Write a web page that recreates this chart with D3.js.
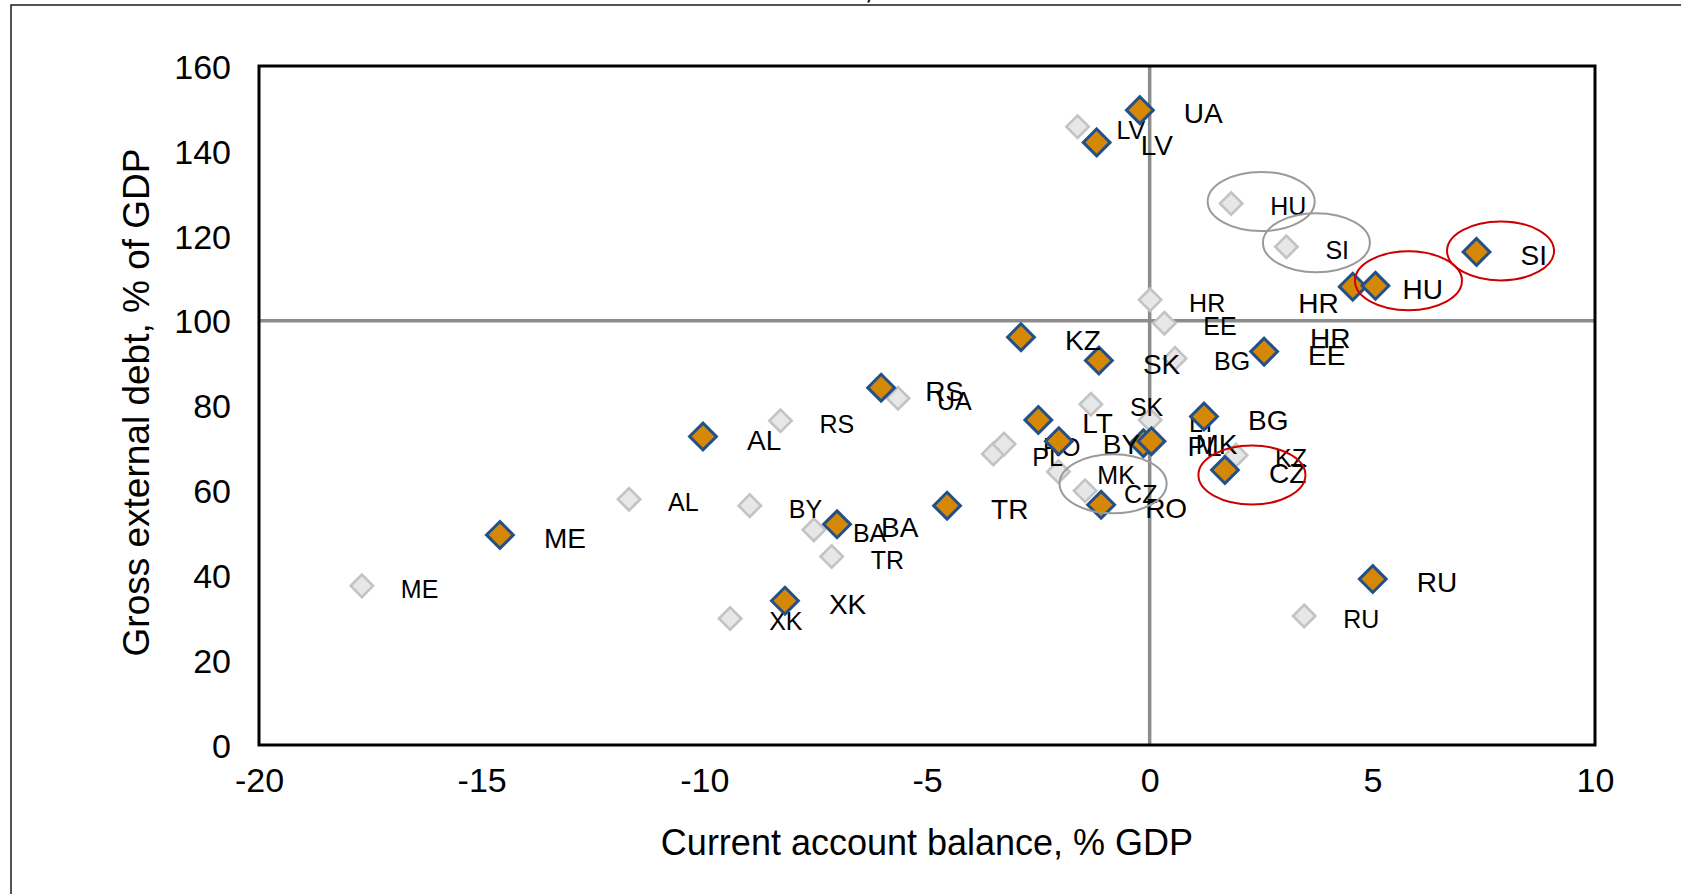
<!DOCTYPE html>
<html>
<head>
<meta charset="utf-8">
<script src="https://cdn.jsdelivr.net/npm/d3@7/dist/d3.min.js"></script>
<style>
    body { margin: 0; background: #fff; }
    svg { display: block; font-family: "Liberation Sans", Arial, sans-serif; }
</style>
</head>
<body>
<div id="chart"></div>
<script>
// earlier year (grey diamonds)
const prevCodes = ["LV", "HU", "SI", "HR", "EE", "BG", "SK", "LT", "UA", "RS", "AL",
                   "ME", "BY", "BA", "TR", "XK", "PL", "RO", "MK", "CZ", "KZ", "RU"];
const prevCA   = [-1.62, 1.83, 3.07, 0.01, 0.33, 0.57, -1.32, 0.01, -5.65, -8.29, -11.69,
                  -17.69, -8.98, -7.54, -7.14, -9.42, -3.51, -3.27, -2.05, -1.45, 1.94, 3.47];
const prevDebt = [145.7, 127.6, 117.4, 104.9, 99.4, 91.1, 80.3, 76.6, 81.7, 76.4, 57.9,
                  37.5, 56.4, 50.7, 44.4, 29.8, 68.6, 70.9, 64.4, 59.9, 68.3, 30.4];

// latest year (orange diamonds)
const currCodes = ["UA", "LV", "KZ", "SK", "RS", "AL", "ME", "XK", "BA", "TR", "LT",
                   "BY", "PL", "MK", "RO", "BG", "CZ", "EE", "HR", "HU", "SI", "RU"];
const currCA   = [-0.22, -1.19, -2.89, -1.14, -6.03, -10.03, -14.59, -8.19, -7.02, -4.55, -2.50,
                  -2.04, -0.14, 0.04, -1.09, 1.22, 1.69, 2.57, 4.56, 5.07, 7.34, 5.01];
const currDebt = [149.6, 142.0, 96.1, 90.6, 84.2, 72.7, 49.5, 34.0, 52.0, 56.4, 76.6,
                  71.6, 71.1, 71.6, 56.6, 77.4, 64.8, 92.7, 108.0, 108.2, 116.2, 39.1];

const xTicks = [-20, -15, -10, -5, 0, 5, 10];
const yTicks = [0, 20, 40, 60, 80, 100, 120, 140, 160];
const refX = 0, refY = 100;

// countries circled in each series
const circledPrev = ["HU", "SI", "CZ"];
const circledCurr = ["HU", "SI", "CZ"];

// hand-moved labels (pixel nudges, like in the original workbook)
const labelNudge = {
    "curr-HU": {dx: 27},
    "curr-HR": {dx: -14, dy: 16, anchor: "end"}
};
const extraLabels = [{series: "curr", code: "EE", text: "HR", dx: 46, dy: -14}];
const ellipseNudge = {
    "prev-HU": [30, -2], "prev-SI": [30, -4], "prev-CZ": [28, -7],
    "curr-HU": [33, -5], "curr-SI": [24, -1], "curr-CZ": [27, 5]
};

const W = 1681, H = 894;
const margin = {top: 66, right: 86, bottom: 149, left: 259};
const width = W - margin.left - margin.right,
      height = H - margin.top - margin.bottom;

const svgRoot = d3.select("#chart").append("svg")
    .attr("width", W)
    .attr("height", H);

// outer chart frame (runs off the picture on the right and bottom)
svgRoot.append("path")
    .attr("d", "M11," + (H + 5) + "V5H" + (W + 5))
    .attr("fill", "none")
    .attr("stroke", "#1a1a1a")
    .attr("stroke-width", 1.5);

// clipped title remnant at the very top
svgRoot.append("text")
    .attr("x", 864).attr("y", -2)
    .attr("font-size", 34)
    .text(",");

const svg = svgRoot.append("g")
    .attr("transform", "translate(" + margin.left + "," + margin.top + ")");

const x = d3.scaleLinear().domain([-20, 10]).range([0, width]);
const y = d3.scaleLinear().domain([0, 160]).range([height, 0]);

// axes without ticks or domain lines, plain hyphen minus signs
const fmt = d => String(d);
const xAxis = svg.append("g")
    .attr("transform", "translate(0," + height + ")")
    .call(d3.axisBottom(x).tickValues(xTicks).tickFormat(fmt).tickSize(0).tickPadding(47));
const yAxis = svg.append("g")
    .call(d3.axisLeft(y).tickValues(yTicks).tickFormat(fmt).tickSize(0).tickPadding(28));
[xAxis, yAxis].forEach(a => {
    a.select(".domain").remove();
    a.selectAll("text")
        .attr("font-family", "'Liberation Sans', Arial, sans-serif")
        .attr("font-size", 34)
        .attr("fill", "#000");
});
yAxis.selectAll("text").attr("dy", "0.36em");
xAxis.selectAll("text").attr("dy", "0");

// reference lines at 0 and 100
svg.append("line")
    .attr("x1", x(refX)).attr("x2", x(refX))
    .attr("y1", 0).attr("y2", height)
    .attr("stroke", "#8c8c8c").attr("stroke-width", 3.5);
svg.append("line")
    .attr("x1", 0).attr("x2", width)
    .attr("y1", y(refY)).attr("y2", y(refY))
    .attr("stroke", "#8c8c8c").attr("stroke-width", 3.5);

// plot border
svg.append("rect")
    .attr("width", width).attr("height", height)
    .attr("fill", "none")
    .attr("stroke", "#000")
    .attr("stroke-width", 3);

// axis titles
svgRoot.append("text")
    .attr("x", margin.left + width / 2)
    .attr("y", 855)
    .attr("text-anchor", "middle")
    .attr("font-size", 36)
    .text("Current account balance, % GDP");
svgRoot.append("text")
    .attr("transform", "translate(149," + (margin.top + height / 2 - 3) + ") rotate(-90)")
    .attr("text-anchor", "middle")
    .attr("font-size", 37)
    .text("Gross external debt, % of GDP");

const prevData = prevCodes.map((c, i) => ({code: c, ca: prevCA[i], debt: prevDebt[i]}));
const currData = currCodes.map((c, i) => ({code: c, ca: currCA[i], debt: currDebt[i]}));

const diamond = h => "M0," + (-h) + "L" + h + ",0L0," + h + "L" + (-h) + ",0Z";

const series = [
    {key: "prev", data: prevData, h: 11.2, fill: "#e6e7e9", stroke: "#c3c3c3", sw: 2.6,
     font: 25, dx: 39, circled: circledPrev, ring: "#9a9a9a"},
    {key: "curr", data: currData, h: 13.4, fill: "#d48806", stroke: "#24508a", sw: 3,
     font: 28, dx: 44, circled: circledCurr, ring: "#cc0000"}
];

series.forEach(s => {
    svg.append("g").selectAll("path")
        .data(s.data)
        .join("path")
        .attr("transform", d => "translate(" + x(d.ca) + "," + y(d.debt) + ")")
        .attr("d", diamond(s.h))
        .attr("fill", s.fill)
        .attr("stroke", s.stroke)
        .attr("stroke-width", s.sw);

    const capHalf = s.font * 0.716 / 2;
    let labels = s.data.map(d => {
        let n = labelNudge[s.key + "-" + d.code] || {};
        return {text: d.code, d: d, dx: n.dx !== undefined ? n.dx : s.dx,
                dy: n.dy !== undefined ? n.dy : 3, anchor: n.anchor || "start"};
    });
    extraLabels.filter(e => e.series === s.key).forEach(e => {
        let d = s.data.find(p => p.code === e.code);
        labels.push({text: e.text, d: d, dx: e.dx, dy: e.dy, anchor: "start"});
    });

    svg.append("g").selectAll("text")
        .data(labels)
        .join("text")
        .attr("x", l => x(l.d.ca) + l.dx)
        .attr("y", l => y(l.d.debt) + l.dy + capHalf)
        .attr("text-anchor", l => l.anchor)
        .attr("font-size", s.font)
        .attr("fill", "#000")
        .text(l => l.text);
});

// highlight ellipses
series.forEach(s => {
    svg.append("g").selectAll("ellipse")
        .data(s.data.filter(d => s.circled.includes(d.code)))
        .join("ellipse")
        .attr("cx", d => x(d.ca) + ellipseNudge[s.key + "-" + d.code][0])
        .attr("cy", d => y(d.debt) + ellipseNudge[s.key + "-" + d.code][1])
        .attr("rx", 53.5)
        .attr("ry", 29.5)
        .attr("fill", "none")
        .attr("stroke", s.ring)
        .attr("stroke-width", 2);
});
</script>
</body>
</html>
